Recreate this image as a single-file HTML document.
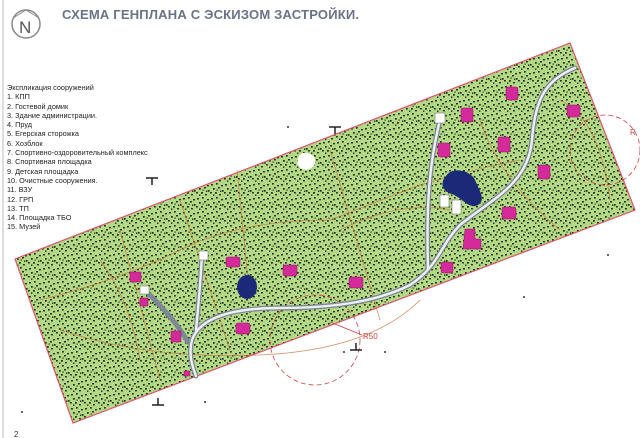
<!DOCTYPE html>
<html><head><meta charset="utf-8"><style>
body{margin:0;background:#fff;width:640px;height:438px;overflow:hidden;font-family:"Liberation Sans",sans-serif}
.t{position:absolute;left:62px;top:7px;font-size:13px;font-weight:bold;color:#6a7384;letter-spacing:0.2px}
.leg{position:absolute;left:7px;top:83px;font-size:7.3px;line-height:9.3px;color:#222}
</style></head><body>
<svg width="640" height="438" style="position:absolute;left:0;top:0">
<defs>
<pattern id="d" width="14" height="14" patternUnits="userSpaceOnUse">
<rect width="14" height="14" fill="#b3d985"/>
<g fill="#1d2a14">
<rect x="1" y="2" width="1.9" height="1.5"/><rect x="6" y="1" width="1.7" height="1.6"/><rect x="11" y="3" width="1.9" height="1.4"/>
<rect x="3" y="6" width="1.7" height="1.7"/><rect x="8" y="5" width="1.9" height="1.5"/><rect x="12" y="8" width="1.6" height="1.7"/>
<rect x="0" y="10" width="1.8" height="1.5"/><rect x="5" y="10" width="1.8" height="1.7"/><rect x="9" y="12" width="1.9" height="1.4"/>
<rect x="3" y="12.5" width="1.4" height="1.4"/><rect x="10" y="8.5" width="1.4" height="1.4"/><rect x="6.5" y="7.5" width="1.2" height="1.2"/>
</g></pattern>
</defs>
<line x1="3" y1="0" x2="3" y2="438" stroke="#bbb" stroke-width="1"/>
<circle cx="26" cy="24" r="14" fill="none" stroke="#888" stroke-width="1.5"/>
<line x1="13" y1="18" x2="26" y2="10" stroke="#888"/><line x1="39" y1="18" x2="26" y2="10" stroke="#888"/>
<text x="19" y="33" font-size="17" fill="#555" font-family="Liberation Sans">N</text>
<polygon points="15,259 570,43 635,210 73,423" fill="url(#d)" stroke="#e05070" stroke-width="1.2"/>
<g stroke="#c8703a" stroke-width="0.8" fill="none" opacity="0.8">
<path d="M40,300 Q120,280 180,250 T330,220 L420,185 Q470,170 520,160"/>
<path d="M180,200 L230,350"/><path d="M237,170 L250,300"/><path d="M330,150 L380,320"/>
<path d="M120,230 L160,380"/><path d="M60,330 Q150,360 260,355 T420,300"/>
<path d="M480,120 Q500,180 560,230"/><path d="M560,100 Q600,120 610,200"/>
<path d="M340,230 Q400,200 450,210"/>
<path d="M100,260 Q130,300 140,360"/>
</g>
<circle cx="315" cy="340" r="45" fill="none" stroke="#d04040" stroke-width="0.8" stroke-dasharray="5,3"/>
<circle cx="605" cy="150" r="35" fill="none" stroke="#d04040" stroke-width="0.8" stroke-dasharray="5,3"/>
<line x1="330" y1="322" x2="362" y2="335" stroke="#d04040" stroke-width="0.8"/>
<text x="363" y="339" font-size="8" fill="#d04040">R50</text>
<text x="630" y="135" font-size="8" fill="#d04040">R</text>
<g fill="none" stroke-linecap="round">
<g stroke="#7d8796" stroke-width="5">
<path d="M575,68 C545,80 535,100 532,140 C528,185 490,200 460,225 C440,245 440,265 410,285 C380,300 340,308 280,308 C230,308 200,318 192,340 C188,355 193,368 196,376"/>
<path d="M440,120 C430,160 426,200 428,268"/>
<path d="M202,255 C200,290 198,310 196,330"/>
<path d="M145,290 C165,310 178,325 188,342"/>
</g>
<g stroke="#eef0f4" stroke-width="2.4">
<path d="M575,68 C545,80 535,100 532,140 C528,185 490,200 460,225 C440,245 440,265 410,285 C380,300 340,308 280,308 C230,308 200,318 192,340 C188,355 193,368 196,376"/>
<path d="M440,120 C430,160 426,200 428,268"/>
<path d="M202,255 C200,290 198,310 196,330"/>
</g>
</g>
<path d="M446,176 C452,166 472,170 476,182 C480,192 486,200 478,205 C470,210 462,198 452,194 C440,190 441,182 446,176Z" fill="#1a2a78"/>
<ellipse cx="247" cy="287" rx="10" ry="12" fill="#1a2a78"/>
<g fill="#fff" stroke="#777" stroke-width="0.6">
<rect x="435" y="113" width="10" height="10"/><rect x="199" y="251" width="9" height="9"/>
<rect x="140" y="286" width="9" height="8"/><rect x="440" y="195" width="9" height="12"/><rect x="452" y="200" width="9" height="14"/>
</g>
<path d="M298,158 q4,-8 12,-4 q8,4 4,12 q-6,6 -14,2 q-4,-4 -2,-10z" fill="#fff"/>
<g fill="#d42a9a" stroke="#8a1060" stroke-width="0.5">
<rect x="506" y="87" width="12" height="13" rx="2"/><rect x="461" y="108" width="12" height="14" rx="2"/><rect x="498" y="137" width="12" height="15" rx="2"/>
<rect x="438" y="143" width="12" height="14" rx="2"/><rect x="567" y="105" width="13" height="12" rx="2"/><rect x="538" y="165" width="12" height="14" rx="2"/>
<rect x="502" y="207" width="14" height="12" rx="2"/><path d="M465,229 h10 v10 h6 v10 h-18 z"/><rect x="441" y="262" width="12" height="11" rx="2"/>
<rect x="226" y="257" width="14" height="10" rx="2"/><rect x="283" y="265" width="14" height="11" rx="2"/><rect x="349" y="277" width="14" height="11" rx="2"/>
<rect x="236" y="323" width="14" height="11" rx="2"/><rect x="171" y="331" width="10" height="11"/>
<rect x="130" y="272" width="11" height="10"/><rect x="140" y="298" width="8" height="8"/><rect x="184" y="371" width="6" height="5"/>
</g>
<g stroke="#222" stroke-width="1.5">
<path d="M146,178 h12 M152,178 v7"/><path d="M329,127 h12 M335,127 v7"/><path d="M152,405 h12 M158,405 v-7"/>
<path d="M350,350 h12 M356,350 v-7"/>
</g>
<g fill="#333"><circle cx="288" cy="127" r="1"/><circle cx="344" cy="352" r="1"/><circle cx="385" cy="352" r="1"/><circle cx="524" cy="297" r="1"/><circle cx="608" cy="255" r="1"/><circle cx="205" cy="402" r="1"/><circle cx="22" cy="412" r="1"/></g>
<text x="14" y="437" font-size="8" fill="#333">2</text>
</svg>
<div class="t">СХЕМА ГЕНПЛАНА С ЭСКИЗОМ ЗАСТРОЙКИ.</div>
<div class="leg">Экспликация сооружений<br>1. КПП<br>2. Гостевой домик<br>3. Здание администрации.<br>4. Пруд<br>5. Егерская сторожка<br>6. Хозблок<br>7. Спортивно-оздоровительный комплекс<br>8. Спортивная площадка<br>9. Детская площадка<br>10. Очистные сооружения.<br>11. ВЗУ<br>12. ГРП<br>13. ТП<br>14. Площадка ТБО<br>15. Музей</div>
</body></html>
